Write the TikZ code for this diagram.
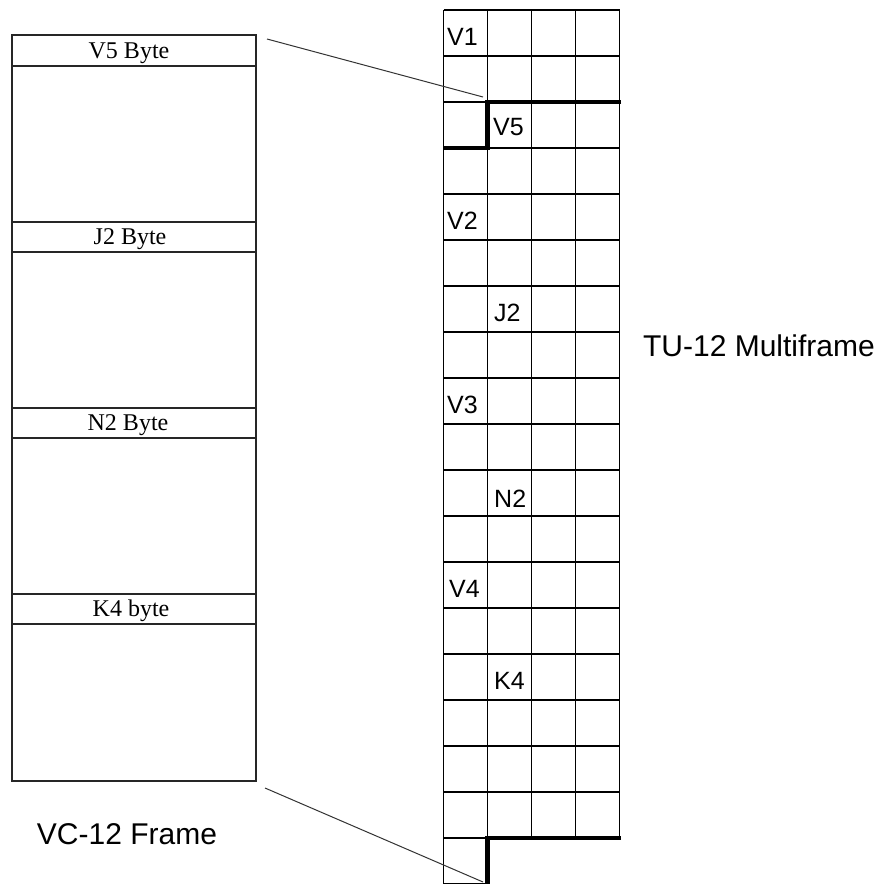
\documentclass[tikz,border=0pt]{standalone}
\usepackage{fontspec}
\setmainfont{Liberation Serif}
\newfontfamily\arialf{Liberation Sans}
\begin{document}
\begin{tikzpicture}[x=1pt,y=-1pt,
  thinline/.style={line width=1.3pt, black},
  frameline/.style={line width=1.5pt, black!85},
  thickline/.style={line width=4.5pt, black},
  conn/.style={line width=1pt, black!80},
  bytelabel/.style={font=\fontsize{24}{27}\selectfont, anchor=base, inner sep=0pt},
  celllabel/.style={font=\arialf\fontsize{25}{28}\selectfont, anchor=base west, inner sep=0pt},
  biglabel/.style={font=\arialf\fontsize{30}{34}\selectfont, inner sep=0pt}]
\useasboundingbox (0,0) rectangle (882,884);
\fill[white] (0,0) rectangle (882,884);

% VC-12 frame
\draw[frameline] (12,35) rectangle (256,781);
\foreach \y in {66,222,252,408,438,594,624} {
  \draw[frameline] (12,\y) -- (256,\y);
}
\node[bytelabel] (v5b) at (129,58) {V5 Byte};
\node[bytelabel] (j2b) at (130,244) {J2 Byte};
\node[bytelabel] (n2b) at (128,430) {N2 Byte};
\node[bytelabel] (k4b) at (131,616) {K4 byte};

% TU-12 grid
\foreach \i in {0,...,18} {
  \draw[thinline] (443.5,{10+46*\i}) -- (619.5,{10+46*\i});
}
\draw[thinline] (443.5,883.5) -- (487.5,883.5);
\draw[thinline] (443.5,10) -- (443.5,884);
\foreach \x in {487.5,531.5,575.5,619.5} {
  \draw[thinline] (\x,10) -- (\x,838);
}
% frame boundary
\draw[thickline] (621,102) -- (487.5,102) -- (487.5,148) -- (443.5,148);
\draw[thickline] (621,838) -- (487.5,838) -- (487.5,884);

% cell labels
\node[celllabel] (v1) at (447,45) {V1};
\node[celllabel] (v5) at (493,135) {V5};
\node[celllabel] (v2) at (447,229) {V2};
\node[celllabel] (j2) at (494,321) {J2};
\node[celllabel] (v3) at (447,413) {V3};
\node[celllabel] (n2) at (494,507) {N2};
\node[celllabel] (v4) at (449,597) {V4};
\node[celllabel] (k4) at (494,689) {K4};

% connectors
\coordinate (ft) at (267,39);
\coordinate (gt) at (483,97);
\coordinate (fb) at (265,788);
\coordinate (gb) at (483,882);
\draw[conn] (ft) -- (gt);
\draw[conn] (fb) -- (gb);

% titles
\node[biglabel] (tu) at (759,346) {TU-12 Multiframe};
\node[biglabel] (vc) at (127,834) {VC-12 Frame};
\end{tikzpicture}
\end{document}
